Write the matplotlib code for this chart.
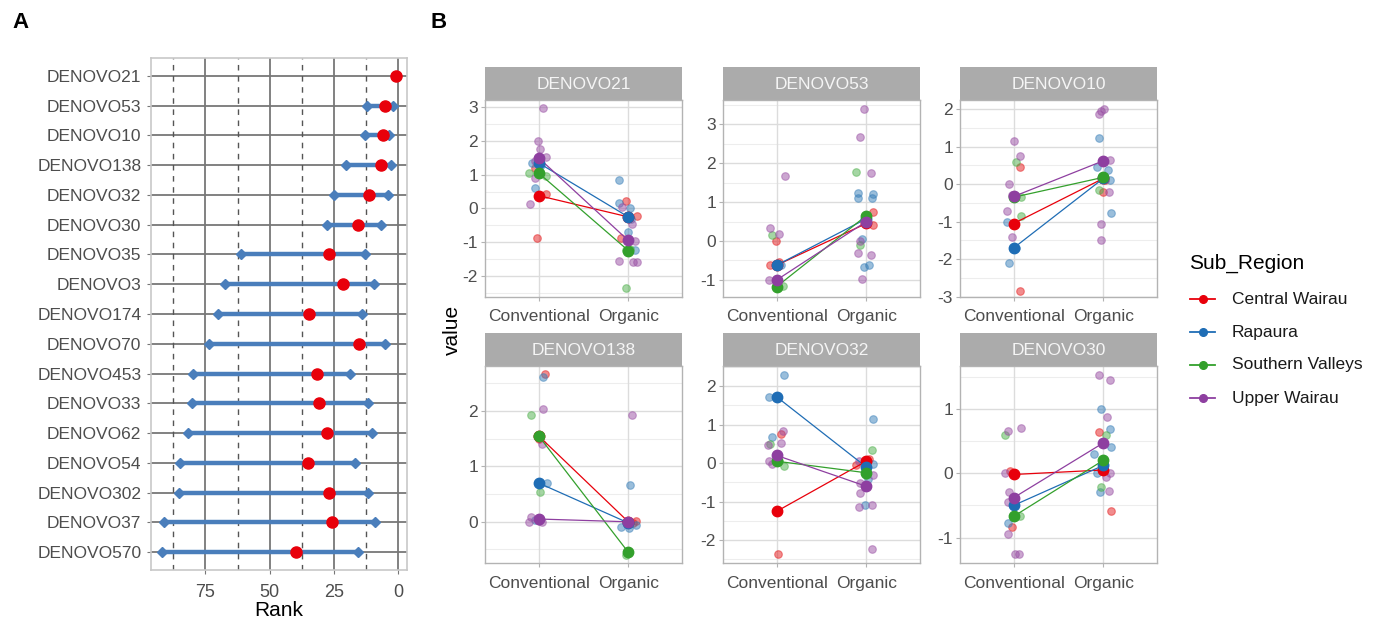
import matplotlib
matplotlib.use("Agg")
import matplotlib.pyplot as plt
import numpy as np

plt.rcParams['font.family'] = ['Liberation Sans', 'DejaVu Sans']

# ---------------- Panel A data ----------------
genes = ["DENOVO21", "DENOVO53", "DENOVO10", "DENOVO138", "DENOVO32", "DENOVO30",
         "DENOVO35", "DENOVO3", "DENOVO174", "DENOVO70", "DENOVO453", "DENOVO33",
         "DENOVO62", "DENOVO54", "DENOVO302", "DENOVO37", "DENOVO570"]
rank_point = [1, 5, 6, 6.7, 11.3, 15.8, 26.8, 21.6, 34.6, 15.3, 31.7, 30.7, 27.8, 35, 26.8, 25.7, 39.8]
rank_low = [1, 12.2, 13, 20.3, 24.9, 27.8, 61.3, 67.3, 70.2, 73.6, 79.7, 80.3, 81.9, 85.1, 85.3, 91, 92]
rank_high = [1, 2.2, 3.5, 2.8, 4.1, 6.7, 13, 9.6, 14.2, 5.2, 18.8, 11.9, 10.1, 16.8, 11.9, 9.1, 15.8]
rank_ticks = [75, 50, 25, 0]
rank_dashed = [87.5, 62.5, 37.5, 12.5]

# ---------------- Panel B data ----------------
facets = ["DENOVO21", "DENOVO53", "DENOVO10", "DENOVO138", "DENOVO32", "DENOVO30"]
regions = ["Central Wairau", "Rapaura", "Southern Valleys", "Upper Wairau"]
treatments = ["Conventional", "Organic"]

# group means per region (Central Wairau, Rapaura, Southern Valleys, Upper Wairau)
mean_conv = {
    "DENOVO21": [0.38, 1.35, 1.05, 1.50],
    "DENOVO53": [-0.62, -0.62, -1.17, -1.0],
    "DENOVO10": [-1.05, -1.70, -0.35, -0.33],
    "DENOVO138": [1.55, 0.70, 1.55, 0.05],
    "DENOVO32": [-1.25, 1.72, 0.05, 0.20],
    "DENOVO30": [-0.02, -0.50, -0.67, -0.38],
}
mean_org = {
    "DENOVO21": [-0.25, -0.25, -1.25, -0.95],
    "DENOVO53": [0.45, 0.57, 0.65, 0.50],
    "DENOVO10": [0.15, 0.15, 0.18, 0.62],
    "DENOVO138": [0.0, -0.02, -0.55, 0.0],
    "DENOVO32": [0.05, -0.10, -0.25, -0.60],
    "DENOVO30": [0.05, 0.12, 0.20, 0.47],
}

# individual observations: region index, value (separate lists)
d21_conv_reg = [3, 3, 3, 3, 3, 1, 0, 2, 2, 3, 1, 0, 3, 0, 1, 2]
d21_conv_val = [2.97, 2.0, 1.77, 1.53, 1.42, 1.34, 1.2, 1.04, 0.96, 0.91, 0.62, 0.42, 0.12, -0.89, 1.3, 1.1]
d21_org_reg = [1, 0, 1, 3, 1, 0, 3, 1, 0, 3, 1, 2, 3, 3, 3, 2, 1, 2]
d21_org_val = [0.84, 0.23, 0.15, 0.05, 0.02, -0.23, -0.47, -0.70, -0.89, -0.96, -1.24, -1.24, -1.55, -1.60, -1.60, -2.37, -0.3, -1.2]

d53_conv_reg = [3, 3, 2, 3, 0, 0, 1, 3, 3, 2, 2, 1, 0]
d53_conv_val = [1.67, 0.34, 0.15, 0.17, 0.0, -0.62, -0.62, -1.0, -1.0, -1.17, -1.15, -0.6, -0.55]
d53_org_reg = [3, 3, 2, 3, 1, 1, 1, 1, 0, 2, 0, 1, 3, 2, 3, 3, 1, 1, 3, 0]
d53_org_val = [3.4, 2.66, 1.78, 1.74, 1.22, 1.2, 1.1, 1.1, 0.74, 0.68, 0.41, 0.04, 0.0, -0.1, -0.32, -0.36, -0.66, -0.62, -0.98, 0.5]

d10_conv_reg = [3, 3, 2, 0, 3, 2, 3, 2, 1, 0, 3, 1, 1, 0, 3]
d10_conv_val = [1.15, 0.75, 0.58, 0.46, 0.0, -0.35, -0.73, -0.84, -1.0, -1.05, -1.42, -1.7, -2.1, -2.84, -0.3]
d10_org_reg = [3, 3, 3, 1, 3, 1, 1, 2, 1, 0, 3, 1, 3, 3, 2, 0]
d10_org_val = [1.88, 1.95, 2.0, 1.22, 0.65, 0.46, 0.38, -0.15, 0.1, -0.2, -0.2, -0.78, -1.05, -1.5, 0.15, 0.1]

d138_conv_reg = [0, 1, 3, 2, 3, 2, 1, 2, 3, 3, 3, 1, 0, 3]
d138_conv_val = [2.67, 2.61, 2.03, 1.93, 1.40, 1.55, 0.70, 0.54, 0.09, 0.0, 0.0, 0.04, 1.5, 0.02]
d138_org_reg = [3, 1, 0, 1, 1, 2, 3, 0, 1]
d138_org_val = [1.93, 0.66, 0.01, -0.09, -0.11, -0.6, 0.0, -0.02, -0.05]

d32_conv_reg = [1, 1, 3, 0, 1, 3, 3, 2, 3, 3, 2, 0, 0, 2]
d32_conv_val = [2.29, 1.73, 0.84, 0.75, 0.68, 0.53, 0.46, 0.5, 0.05, -0.03, -0.07, -2.37, -1.25, 0.05]
d32_org_reg = [1, 2, 0, 3, 1, 0, 3, 3, 3, 3, 1, 3, 3, 2, 1]
d32_org_val = [1.14, 0.35, 0.1, 0.06, -0.03, -0.05, -0.31, -0.51, -0.77, -1.15, -1.09, -1.09, -2.22, -0.3, -0.4]

d30_conv_reg = [3, 3, 2, 3, 0, 3, 3, 1, 0, 3, 3, 3, 2, 1]
d30_conv_val = [0.66, 0.70, 0.59, 0.0, 0.03, -0.30, -0.45, -0.77, -0.84, -0.95, -1.26, -1.26, -0.66, -0.5]
d30_org_reg = [3, 3, 1, 3, 0, 2, 1, 1, 1, 1, 3, 3, 2, 1, 3, 0, 2]
d30_org_val = [1.53, 1.45, 1.0, 0.87, 0.64, 0.6, 0.68, 0.41, 0.30, 0.0, 0.0, -0.06, -0.21, -0.3, -0.28, -0.59, 0.2]

# horizontal jitter (category units), aligned with the lists above
d21_conv_jit = [0.045, -0.01, 0.01, 0.08, -0.04, -0.075, -0.04, -0.11, 0.08, -0.04, -0.04, 0.08, -0.1, -0.02, 0.02, 0.0]
d21_org_jit = [-0.10, -0.03, -0.10, -0.07, 0.015, 0.10, 0.045, 0.0, -0.08, 0.08, 0.075, -0.03, -0.10, 0.055, 0.10, -0.03, 0.03, 0.02]
d53_conv_jit = [0.09, -0.07, -0.055, 0.03, -0.01, -0.07, 0.045, -0.085, -0.01, -0.01, 0.075, 0.0, 0.02]
d53_org_jit = [-0.03, -0.07, -0.11, 0.05, -0.09, 0.08, -0.09, 0.065, 0.08, 0.01, 0.08, -0.045, -0.07, -0.065, -0.09, 0.05, -0.03, 0.035, -0.05, 0.0]
d10_conv_jit = [0.0, 0.07, 0.02, 0.07, -0.05, 0.08, -0.07, 0.08, -0.07, 0.01, -0.015, 0.03, -0.05, 0.065, -0.02]
d10_org_jit = [-0.05, -0.02, 0.01, -0.05, 0.07, -0.07, 0.05, -0.05, 0.08, 0.0, 0.065, 0.09, -0.02, -0.02, 0.0, 0.02]
d138_conv_jit = [0.065, 0.045, 0.045, -0.085, 0.04, -0.02, 0.09, 0.01, -0.085, -0.11, 0.04, -0.045, 0.0, 0.0]
d138_org_jit = [0.04, 0.02, 0.085, -0.08, 0.01, -0.025, -0.03, 0.05, 0.09]
d32_conv_jit = [0.08, -0.085, 0.075, 0.05, -0.05, 0.045, -0.10, -0.07, -0.085, -0.05, 0.08, 0.01, 0.0, 0.02]
d32_org_jit = [0.08, 0.06, 0.03, -0.08, 0.07, -0.11, 0.07, -0.065, -0.07, -0.085, -0.015, 0.06, 0.06, 0.0, 0.02]
d30_conv_jit = [-0.065, 0.08, -0.10, -0.10, -0.045, -0.055, -0.065, -0.065, -0.015, -0.065, 0.01, 0.055, 0.07, 0.0]
d30_org_jit = [-0.05, 0.075, -0.02, 0.045, -0.05, 0.03, 0.08, 0.09, -0.10, -0.07, 0.075, 0.03, -0.02, -0.04, 0.065, 0.09, 0.0]

y_ticks = {
    "DENOVO21": [-2, -1, 0, 1, 2, 3],
    "DENOVO53": [-1, 0, 1, 2, 3],
    "DENOVO10": [-3, -2, -1, 0, 1, 2],
    "DENOVO138": [0, 1, 2],
    "DENOVO32": [-2, -1, 0, 1, 2],
    "DENOVO30": [-1, 0, 1],
}
y_lims = {
    "DENOVO21": (-2.62, 3.22),
    "DENOVO53": (-1.43, 3.62),
    "DENOVO10": (-3.0, 2.24),
    "DENOVO138": (-0.75, 2.82),
    "DENOVO32": (-2.6, 2.53),
    "DENOVO30": (-1.4, 1.67),
}

obs = {
    "DENOVO21": (d21_conv_reg, d21_conv_val, d21_conv_jit, d21_org_reg, d21_org_val, d21_org_jit),
    "DENOVO53": (d53_conv_reg, d53_conv_val, d53_conv_jit, d53_org_reg, d53_org_val, d53_org_jit),
    "DENOVO10": (d10_conv_reg, d10_conv_val, d10_conv_jit, d10_org_reg, d10_org_val, d10_org_jit),
    "DENOVO138": (d138_conv_reg, d138_conv_val, d138_conv_jit, d138_org_reg, d138_org_val, d138_org_jit),
    "DENOVO32": (d32_conv_reg, d32_conv_val, d32_conv_jit, d32_org_reg, d32_org_val, d32_org_jit),
    "DENOVO30": (d30_conv_reg, d30_conv_val, d30_conv_jit, d30_org_reg, d30_org_val, d30_org_jit),
}

colors = ["#E41A1C", "#377EB8", "#4DAF4A", "#984EA3"]
mean_colors = ["#E8000B", "#1F6DB5", "#33A02C", "#8E3FA0"]
text_col = "#4D4D4D"

W, H = 1378, 625
fig = plt.figure(figsize=(W / 100, H / 100), dpi=100)


def rect(l, t, r, b):
    return [l / W, 1 - b / H, (r - l) / W, (b - t) / H]


# ---------------- Panel A ----------------
axA = fig.add_axes(rect(151, 58, 407, 570))
n = len(genes)
ypos = np.arange(n)[::-1]
axA.set_xlim(96.2, -3.4)
axA.set_ylim(-0.6, n - 0.4)
for x in rank_ticks:
    axA.axvline(x, color="#777777", lw=1.3, zorder=1)
for y in ypos:
    axA.axhline(y, color="#777777", lw=1.3, zorder=1)
for x in rank_dashed:
    axA.axvline(x, color="#555555", lw=1.0, ls=(0, (4, 4)), zorder=1)
for i in range(n):
    if rank_low[i] != rank_high[i]:
        axA.plot([rank_low[i], rank_high[i]], [ypos[i], ypos[i]], color="#4A7EBB", lw=3.2,
                 solid_capstyle="butt", zorder=2)
        axA.plot([rank_low[i], rank_high[i]], [ypos[i], ypos[i]], ls="none", marker="D",
                 ms=5.5, color="#4A7EBB", zorder=3)
    axA.plot(rank_point[i], ypos[i], "o", color="#E8000B", ms=8, zorder=4)
axA.set_yticks(ypos)
axA.set_yticklabels(genes, fontsize=12.5, color=text_col)
axA.set_xticks(rank_ticks)
axA.set_xticklabels([str(v) for v in rank_ticks], fontsize=13, color=text_col)
axA.tick_params(axis="y", length=3, color="#777777", pad=4)
axA.tick_params(axis="x", length=3, color="#777777", pad=7)
for s in axA.spines.values():
    s.set_color("#C8C8C8")
    s.set_linewidth(1.2)
axA.set_xlabel("Rank", fontsize=15, labelpad=0)
fig.text(12 / W, 1 - 22 / H, "A", fontsize=16, fontweight="bold", va="center", ha="left")
fig.text(430 / W, 1 - 22 / H, "B", fontsize=16, fontweight="bold", va="center", ha="left")

# ---------------- Panel B ----------------
col_l = [485, 723, 960]
col_w = 197
strip_top = [66.7, 332.7]
panel_top = [100, 365.7]
panel_bot = [296.7, 563.3]

for k, f in enumerate(facets):
    r, c = divmod(k, 3)
    l = col_l[c]
    sax = fig.add_axes(rect(l, strip_top[r], l + col_w, panel_top[r]))
    sax.set_facecolor("#ABABAB")
    sax.set_xticks([]); sax.set_yticks([])
    for s in sax.spines.values():
        s.set_visible(False)
    sax.text(0.5, 0.47, f, color="#F5F5F5", fontsize=12.5, ha="center", va="center",
             transform=sax.transAxes)

    ax = fig.add_axes(rect(l, panel_top[r], l + col_w, panel_bot[r]))
    ax.set_xlim(0.4, 2.6)
    ax.set_ylim(*y_lims[f])
    ticks = y_ticks[f]
    step = ticks[1] - ticks[0]
    minors = np.arange(ticks[0] - step / 2, ticks[-1] + step, step)
    for m in minors:
        ax.axhline(m, color="#EDEDED", lw=0.8, zorder=0)
    for t in ticks:
        ax.axhline(t, color="#DCDCDC", lw=1.0, zorder=0)
    for xx in (1, 2):
        ax.axvline(xx, color="#DCDCDC", lw=1.0, zorder=0)

    creg, cval, cjit, oreg, oval, ojit = obs[f]
    for reg, val, jit, base in ((creg, cval, cjit, 1), (oreg, oval, ojit, 2)):
        for g in range(4):
            xs = [base + j for rr, j in zip(reg, jit) if rr == g]
            ys = [v for rr, v in zip(reg, val) if rr == g]
            ax.scatter(xs, ys, s=30, color=colors[g], alpha=0.5, edgecolors=colors[g],
                       linewidths=0.8, zorder=2)
    for g in range(4):
        ax.plot([1, 2], [mean_conv[f][g], mean_org[f][g]], color=mean_colors[g], lw=0.9, zorder=3)
        ax.plot([1, 2], [mean_conv[f][g], mean_org[f][g]], ls="none", marker="o", ms=7.5,
                color=mean_colors[g], zorder=4)

    ax.set_yticks(ticks)
    ax.set_yticklabels([str(t) for t in ticks], fontsize=12.5, color=text_col)
    ax.set_xticks([1, 2])
    ax.set_xticklabels(treatments, fontsize=12.5, color=text_col)
    ax.tick_params(axis="y", length=3, color="#B3B3B3", pad=2)
    ax.tick_params(axis="x", length=3, color="#B3B3B3", pad=6)
    for s in ax.spines.values():
        s.set_color("#B3B3B3")
        s.set_linewidth(1.0)

fig.text(452 / W, 1 - 330 / H, "value", rotation=90, fontsize=15, ha="center", va="center")

# ---------------- Legend (figure-level overlay) ----------------
lax = fig.add_axes([0, 0, 1, 1], facecolor="none")
lax.set_xlim(0, W); lax.set_ylim(H, 0)
lax.axis("off")
lax.text(1189, 263, "Sub_Region", fontsize=15, va="center", ha="left")
leg_y = [299, 332, 365, 398]
for g in range(4):
    lax.plot([1190, 1215], [leg_y[g], leg_y[g]], color=mean_colors[g], lw=1.3)
    lax.plot([1202.5], [leg_y[g]], "o", color=mean_colors[g], ms=5.5)
    lax.text(1232, leg_y[g], regions[g], fontsize=12.5, va="center", ha="left", color="#1a1a1a")

fig.savefig("out.png", dpi=100)
